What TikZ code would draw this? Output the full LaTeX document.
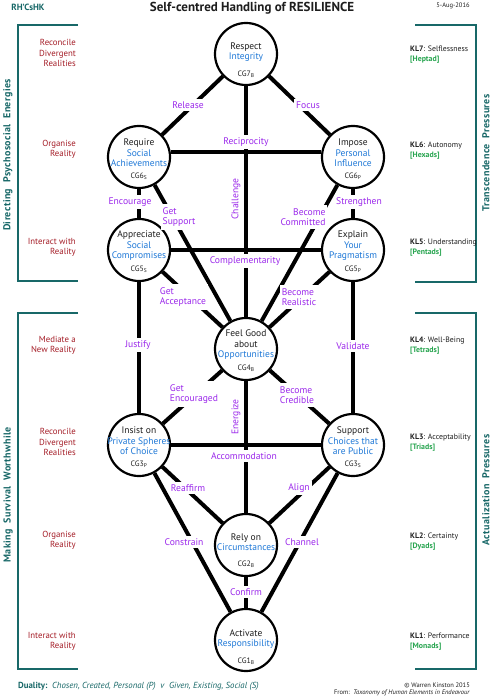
\documentclass[tikz,border=0pt]{standalone}
\usepackage{fontspec}
\setmainfont{PT Sans}
\newfontfamily\sidefont[LetterSpace=4]{PT Sans}
\usetikzlibrary{calc}
\definecolor{teal1}{RGB}{24,104,104}
\definecolor{dred}{RGB}{165,30,40}
\definecolor{purp}{RGB}{155,40,235}
\definecolor{cblue}{RGB}{30,120,215}
\definecolor{kgreen}{RGB}{40,165,80}
\definecolor{ink}{RGB}{30,30,30}
\begin{document}
\begin{tikzpicture}[x=1pt,y=-1pt,
 cg/.style={circle,draw=black,line width=2.2pt,minimum size=62pt,inner sep=0pt},
 conn/.style={line width=4pt,draw=black},
 lbl/.style={fill=white,text=purp,font=\fontsize{9.6}{10.5}\selectfont,inner xsep=2pt,inner ysep=3pt,align=left},
 rlbl/.style={text=purp,font=\fontsize{9.6}{10.5}\selectfont,inner sep=1pt,rotate=90},
 mtxt/.style={font=\fontsize{9.5}{10.5}\selectfont,align=center,text=ink,inner sep=0pt},
 cgl/.style={font=\fontsize{7.8}{8}\selectfont,text=ink,inner sep=0pt},
 lft/.style={font=\fontsize{8.8}{10.2}\selectfont,text=dred,align=right,anchor=east,inner sep=0pt},
 kl/.style={font=\fontsize{7.8}{10}\selectfont,align=left,anchor=west,inner sep=0pt,text=ink},
 brk/.style={draw=teal1,line width=2.2pt},
 side/.style={font=\sidefont\bfseries\fontsize{10}{12}\selectfont,text=teal1,rotate=90,inner sep=0pt}
]
\useasboundingbox[fill=white] (0,0) rectangle (492,700);

% circles
\node[cg] (c7) at (246,54) {};
\node[cg] (c6s) at (139,157) {};
\node[cg] (c6p) at (353,157) {};
\node[cg] (c5s) at (139,250) {};
\node[cg] (c5p) at (353,250) {};
\node[cg] (c4) at (246,349) {};
\node[cg] (c3p) at (139,445) {};
\node[cg] (c3s) at (353,445) {};
\node[cg] (c2) at (246,545) {};
\node[cg] (c1) at (246,640) {};

% connectors
\draw[conn] (c7) -- (c6s);
\draw[conn] (c7) -- (c6p);
\draw[conn] (c7) -- (c4);
\draw[conn] ([yshift=5pt]c6s.east) -- ([yshift=5pt]c6p.west);
\draw[conn] (c6s) -- (c5s);
\draw[conn] (c6p) -- (c5p);
\draw[conn] (c6s) -- (c4);
\draw[conn] (c6p) -- (c4);
\draw[conn] (c5s) -- (c5p);
\draw[conn] (c5s) -- (c4);
\draw[conn] (c5p) -- (c4);
\draw[conn] (c5s) -- (c3p);
\draw[conn] (c5p) -- (c3s);
\draw[conn] (c4) -- (c3p);
\draw[conn] (c4) -- (c3s);
\draw[conn] (c4) -- (c2);
\draw[conn] (c3p) -- (c3s);
\draw[conn] (c3p) -- (c2);
\draw[conn] (c3s) -- (c2);
\draw[conn] (c3p) -- (c1);
\draw[conn] (c3s) -- (c1);
\draw[conn] (c2) -- (c1);

% circle texts
\node[mtxt,yshift=2pt] (t7) at (c7) {Respect\\\textcolor{cblue}{Integrity}};
\node[cgl,yshift=-20pt] (g7) at (c7) {CG7\textsubscript{B}};
\node[mtxt,yshift=4pt] (t6s) at (c6s) {Require\\\textcolor{cblue}{Social}\\\textcolor{cblue}{Achievements}};
\node[cgl,yshift=-19pt] (g6s) at (c6s) {CG6\textsubscript{S}};
\node[mtxt,yshift=4pt] (t6p) at (c6p) {Impose\\\textcolor{cblue}{Personal}\\\textcolor{cblue}{Influence}};
\node[cgl,yshift=-19pt] (g6p) at (c6p) {CG6\textsubscript{P}};
\node[mtxt,yshift=4pt] (t5s) at (c5s) {Appreciate\\\textcolor{cblue}{Social}\\\textcolor{cblue}{Compromises}};
\node[cgl,yshift=-19pt] (g5s) at (c5s) {CG5\textsubscript{S}};
\node[mtxt,yshift=4pt] (t5p) at (c5p) {Explain\\\textcolor{cblue}{Your}\\\textcolor{cblue}{Pragmatism}};
\node[cgl,yshift=-19pt] (g5p) at (c5p) {CG5\textsubscript{P}};
\node[mtxt,yshift=4pt] (t4) at (c4) {Feel Good\\about\\\textcolor{cblue}{Opportunities}};
\node[cgl,yshift=-19pt] (g4) at (c4) {CG4\textsubscript{B}};
\node[mtxt,yshift=4pt] (t3p) at (c3p) {Insist on\\\textcolor{cblue}{Private Spheres}\\\textcolor{cblue}{of Choice}};
\node[cgl,yshift=-19pt] (g3p) at (c3p) {CG3\textsubscript{P}};
\node[mtxt,yshift=4pt] (t3s) at (c3s) {Support\\\textcolor{cblue}{Choices that}\\\textcolor{cblue}{are Public}};
\node[cgl,yshift=-19pt] (g3s) at (c3s) {CG3\textsubscript{S}};
\node[mtxt,yshift=3pt] (t2) at (c2) {Rely on\\\textcolor{cblue}{Circumstances}};
\node[cgl,yshift=-19pt] (g2) at (c2) {CG2\textsubscript{B}};
\node[mtxt,yshift=1pt] (t1) at (c1) {Activate\\\textcolor{cblue}{Responsibility}};
\node[cgl,yshift=-21pt] (g1) at (c1) {CG1\textsubscript{B}};

% connector labels
\node[lbl] (lrel) at (188,105) {Release};
\node[lbl] (lfoc) at (308,105) {Focus};
\node[lbl] (lrec) at (246,142) {Reciprocity};
\node[rlbl] (lcha) at (236,199) {Challenge};
\node[lbl] (lenc) at (130,202) {Encourage};
\node[lbl] (lgsu) at (179,217) {Get\\Support};
\node[lbl] (lstr) at (359,202) {Strengthen};
\node[lbl,align=right] (lbco) at (303,217) {Become\\Committed};
\node[lbl] (lcom) at (245,261) {Complementarity};
\node[lbl] (lgac) at (183,297) {Get\\Acceptance};
\node[lbl] (lbre) at (299,297) {Become\\Realistic};
\node[lbl] (ljus) at (138,345) {Justify};
\node[lbl] (lval) at (353,346) {Validate};
\node[lbl] (lgen) at (194,394) {Get\\Encouraged};
\node[lbl] (lbcr) at (297,395) {Become\\Credible};
\node[rlbl] (lene) at (236,417) {Energize};
\node[lbl] (lacc) at (244,456) {Accommodation};
\node[lbl] (lrea) at (188,488) {Reaffirm};
\node[lbl] (lali) at (299,488) {Align};
\node[lbl] (lcon) at (184,542) {Constrain};
\node[lbl] (lcha2) at (302,542) {Channel};
\node[lbl] (lcnf) at (246,592) {Confirm};

% header
\node[font=\bfseries\fontsize{13}{14}\selectfont,text=ink,inner sep=0pt] (title) at (252,8) {Self-centred Handling of RESILIENCE};
\node[font=\bfseries\fontsize{9}{10}\selectfont,text=teal1,inner sep=0pt] (rh) at (28,7) {RH’CsHK};
\node[font=\fontsize{6.5}{7}\selectfont,text=ink,inner sep=0pt] (date) at (453,6) {5-Aug-2016};

% brackets
\draw[brk] (78,25) -- (18,25) -- (18,281) -- (78,281);
\draw[brk] (78,313) -- (18,313) -- (18,669) -- (78,669);
\draw[brk] (415,25) -- (476,25) -- (476,282) -- (415,282);
\draw[brk] (415,313) -- (476,313) -- (476,669) -- (415,669);

% side titles
\node[side] (sl1) at (8,155) {Directing\ \ Psychosocial\ \ Energies};
\node[side] (sl2) at (8,495) {Making\ \ Survival\ \ Worthwhile};
\node[side] (sr1) at (486,153) {Transcendence\ \ Pressures};
\node[side] (sr2) at (486,490) {Actualization\ \ Pressures};

% left labels
\node[lft] (a7) at (76,53) {Reconcile\\Divergent\\Realities};
\node[lft] (a6) at (76,149) {Organise\\Reality};
\node[lft] (a5) at (76,247) {Interact with\\Reality};
\node[lft] (a4) at (76,345) {Mediate a\\New Reality};
\node[lft] (a3) at (76,442) {Reconcile\\Divergent\\Realities};
\node[lft] (a2) at (76,540) {Organise\\Reality};
\node[lft] (a1) at (76,641) {Interact with\\Reality};

% right labels
\node[kl] (k7) at (410,55) {\textbf{KL7}: Selflessness\\\textcolor{kgreen}{\textbf{[Heptad]}}};
\node[kl] (k6) at (410,151) {\textbf{KL6}: Autonomy\\\textcolor{kgreen}{\textbf{[Hexads]}}};
\node[kl] (k5) at (410,248) {\textbf{KL5}: Understanding\\\textcolor{kgreen}{\textbf{[Pentads]}}};
\node[kl] (k4) at (410,346) {\textbf{KL4}: Well-Being\\\textcolor{kgreen}{\textbf{[Tetrads]}}};
\node[kl] (k3) at (410,443) {\textbf{KL3}: Acceptability\\\textcolor{kgreen}{\textbf{[Triads]}}};
\node[kl] (k2) at (410,542) {\textbf{KL2}: Certainty\\\textcolor{kgreen}{\textbf{[Dyads]}}};
\node[kl] (k1) at (410,642) {\textbf{KL1}: Performance\\\textcolor{kgreen}{\textbf{[Monads]}}};

% footer
\node[font=\fontsize{8.8}{10}\selectfont,text=teal1,anchor=west,inner sep=0pt] (dual) at (18,686) {\textbf{Duality:}\ \ \textit{Chosen, Created, Personal (P)\ \ v\ \ Given, Existing, Social (S)}};
\node[font=\fontsize{6.5}{7}\selectfont,text=ink,anchor=east,inner sep=0pt] (copy) at (470,685) {© Warren Kinston 2015};
\node[font=\fontsize{6.5}{7}\selectfont,text=ink,anchor=east,inner sep=0pt] (from) at (470,693) {From:\ \ \textit{Taxonomy of Human Elements in Endeavour}};
\end{tikzpicture}
\end{document}
